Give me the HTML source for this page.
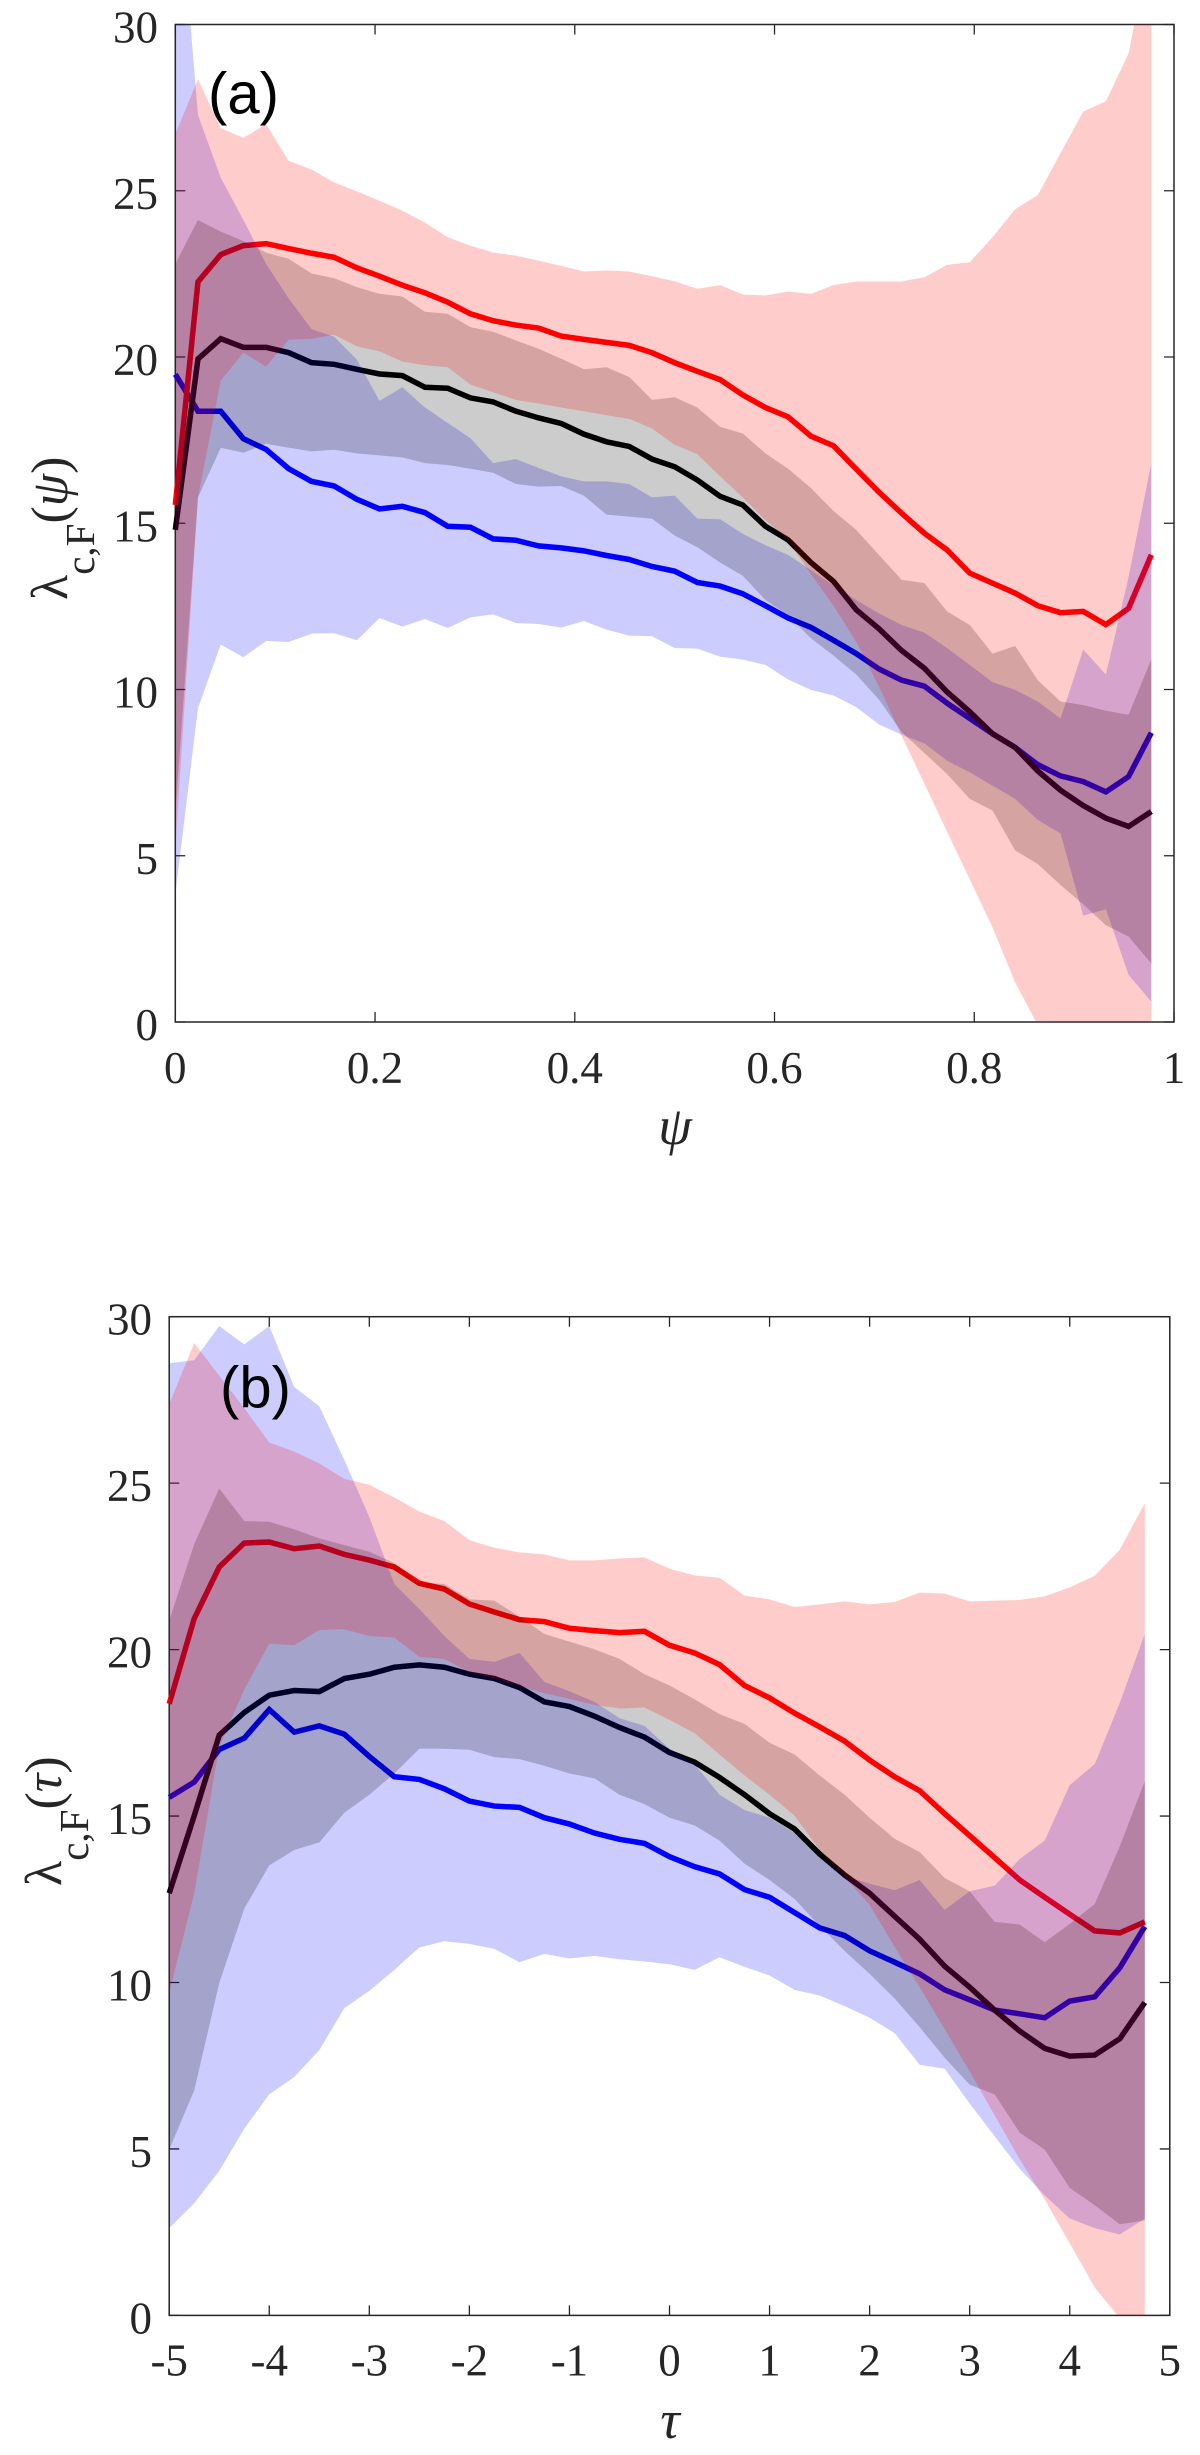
<!DOCTYPE html>
<html lang="en">
<head>
<meta charset="utf-8">
<title>Lambda c,F versus psi and tau</title>
<style>
html,body{margin:0;padding:0;background:#fff;}
svg{display:block;}
text{font-family:"Liberation Serif",serif;fill:#262626;}
.tick{font-size:45px;}
.panel{font-family:"Liberation Sans",sans-serif;font-size:58px;fill:#000;}
</style>
</head>
<body>
<svg id="fig" xmlns="http://www.w3.org/2000/svg" width="1200" height="2455" viewBox="0 0 1200 2455">
<defs>
<clipPath id="clipA"><rect x="175.3" y="24.5" width="998.7" height="997.5"/></clipPath>
<clipPath id="clipB"><rect x="169.2" y="1316.7" width="1000.6" height="998.7"/></clipPath>
</defs>
<g id="panelA"></g>
<g id="panelB"></g>
<text class="panel" x="208" y="113.5">(a)</text>
<text class="panel" x="220" y="1407.5">(b)</text>
<text transform="translate(67,600) rotate(-90)" font-size="52">λ<tspan font-size="41" dy="27">c,F</tspan><tspan dy="-27">(</tspan><tspan font-style="italic">ψ</tspan><tspan>)</tspan></text>
<text transform="translate(61,1886) rotate(-90)" font-size="52">λ<tspan font-size="41" dy="27">c,F</tspan><tspan dy="-27">(</tspan><tspan font-style="italic">τ</tspan><tspan>)</tspan></text>
<text x="675" y="1144" font-size="54" font-style="italic" text-anchor="middle">ψ</text>
<text x="670" y="2438" font-size="54" font-style="italic" text-anchor="middle">τ</text>
</svg>
<script>
// ---- shared tick labels ----
const yTicks = [0, 5, 10, 15, 20, 25, 30];
const xTicksA = [0, 0.2, 0.4, 0.6, 0.8, 1];
const xTicksB = [-5, -4, -3, -2, -1, 0, 1, 2, 3, 4, 5];

// ---- panel (a) data ----
const psiValues = [0,0.0227,0.0455,0.0682,0.0909,0.1136,0.1364,0.1591,0.1818,0.2045,0.2273,0.25,0.2727,0.2955,0.3182,0.3409,0.3636,0.3864,0.4091,0.4318,0.4545,0.4773,0.5,0.5227,0.5455,0.5682,0.5909,0.6136,0.6364,0.6591,0.6818,0.7045,0.7273,0.75,0.7727,0.7955,0.8182,0.8409,0.8636,0.8864,0.9091,0.9318,0.9545,0.9773];
const redMeanA = [15.55,22.26,23.08,23.35,23.41,23.26,23.12,23.0,22.68,22.43,22.16,21.93,21.65,21.3,21.09,20.96,20.87,20.63,20.53,20.44,20.35,20.13,19.83,19.57,19.32,18.86,18.48,18.2,17.62,17.33,16.63,15.94,15.3,14.7,14.2,13.5,13.2,12.9,12.52,12.31,12.35,11.95,12.44,14.05];
const redUpperA = [26.7,28.35,26.88,26.59,27.0,25.9,25.64,25.25,24.98,24.7,24.4,24.04,23.6,23.35,23.14,23.05,22.9,22.74,22.57,22.6,22.57,22.43,22.28,22.05,22.16,21.88,21.85,21.97,21.9,22.16,22.27,22.27,22.27,22.4,22.77,22.85,23.6,24.44,24.87,26.13,27.38,27.69,29.13,32.6];
const redLowerA = [5.2,15.78,19.29,20.13,19.71,20.52,20.55,20.67,20.32,20.17,19.86,19.75,19.69,19.17,18.94,18.71,18.6,18.48,18.37,18.25,18.14,17.85,17.36,17.08,16.41,15.78,15.09,14.51,13.47,12.52,11.43,10.1,8.61,7.17,5.73,4.29,2.85,1.19,-0.1,-1.5,-3,-4,-5,-6];
const blueMeanA = [19.48,18.37,18.37,17.54,17.22,16.64,16.26,16.12,15.72,15.43,15.51,15.32,14.91,14.88,14.53,14.49,14.32,14.26,14.17,14.03,13.91,13.7,13.56,13.22,13.11,12.88,12.52,12.15,11.87,11.48,11.08,10.62,10.28,10.1,9.59,9.13,8.67,8.26,7.74,7.4,7.23,6.92,7.38,8.7];
const blueUpperA = [35.5,27.28,25.39,24.12,22.8,21.76,20.84,20.61,19.92,18.68,19.09,18.48,18.02,17.56,16.81,16.93,16.67,16.41,16.26,16.26,16.18,15.78,15.83,15.14,15.12,14.68,14.34,14.05,13.59,13.13,12.69,12.29,11.94,11.71,11.25,10.74,10.22,9.99,9.64,9.13,11.2,10.45,13.38,16.81];
const blueLowerA = [3.83,9.44,11.35,10.97,11.46,11.43,11.68,11.69,11.48,12.15,11.89,12.12,11.85,12.17,12.26,12.0,11.97,11.86,12.06,11.8,11.62,11.6,11.25,11.23,10.99,10.9,10.74,10.3,9.99,9.82,9.47,8.95,8.64,8.38,7.86,7.51,7.11,6.71,6.08,5.67,3.2,3.39,1.42,0.61];
const blackMeanA = [14.8,19.94,20.55,20.29,20.29,20.13,19.83,19.78,19.63,19.49,19.44,19.09,19.06,18.77,18.65,18.37,18.17,18.0,17.68,17.45,17.31,16.93,16.7,16.3,15.81,15.55,14.91,14.5,13.82,13.25,12.4,11.83,11.17,10.64,9.93,9.33,8.67,8.26,7.55,6.97,6.51,6.13,5.88,6.33];
const blackUpperA = [22.8,24.12,23.77,23.49,23.14,22.95,22.51,22.37,22.1,21.9,21.82,21.36,21.3,20.9,20.76,20.5,20.25,19.95,19.63,19.69,19.4,18.71,18.79,18.48,17.9,17.7,17.1,16.64,16.06,15.37,14.8,14.05,13.3,13.2,12.35,11.94,11.08,11.31,10.28,9.64,9.53,9.36,9.24,10.91];
const blackLowerA = [6.25,15.78,17.27,17.12,17.39,17.27,17.16,17.21,17.1,17.04,16.98,16.81,16.75,16.64,16.52,16.18,16.1,16.12,15.83,15.26,15.2,15.14,14.63,14.28,13.82,13.42,12.69,12.23,11.54,11.02,10.45,9.7,8.72,8.09,7.46,6.71,6.36,5.16,4.75,4.12,3.54,2.91,2.57,1.76];

// ---- panel (b) data ----
const tauValues = [-5,-4.75,-4.5,-4.25,-4,-3.75,-3.5,-3.25,-3,-2.75,-2.5,-2.25,-2,-1.75,-1.5,-1.25,-1,-0.75,-0.5,-0.25,0,0.25,0.5,0.75,1,1.25,1.5,1.75,2,2.25,2.5,2.75,3,3.25,3.5,3.75,4,4.25,4.5,4.75];
const redMeanB = [18.37,20.93,22.48,23.2,23.23,23.03,23.11,22.86,22.69,22.48,21.99,21.82,21.37,21.13,20.9,20.84,20.64,20.57,20.51,20.55,20.13,19.9,19.55,18.92,18.55,18.09,17.68,17.25,16.68,16.18,15.76,15.07,14.41,13.75,13.08,12.56,12.05,11.55,11.49,11.82];
const redUpperB = [27.37,29.21,28.23,27.25,26.22,25.95,25.59,25.13,24.95,24.57,24.15,23.86,23.29,23.06,22.92,22.86,22.68,22.68,22.74,22.77,22.43,22.23,22.16,21.62,21.51,21.28,21.36,21.45,21.36,21.43,21.71,21.68,21.45,21.47,21.49,21.6,21.87,22.22,23.0,24.4];
const redLowerB = [9.69,12.68,17.08,18.8,20.18,20.13,20.59,20.61,20.41,20.36,19.78,19.72,19.32,19.13,18.9,18.69,18.52,18.34,18.23,18.26,17.89,17.49,16.85,16.22,15.64,15.01,13.98,13.18,12.33,11.07,9.86,8.6,7.33,6.01,4.69,3.48,2.16,0.84,-0.08,-1];
const blueMeanB = [15.56,16.02,17.0,17.34,18.2,17.52,17.71,17.46,16.79,16.18,16.1,15.82,15.45,15.3,15.26,14.95,14.76,14.49,14.3,14.18,13.78,13.48,13.26,12.79,12.56,12.1,11.64,11.41,10.95,10.61,10.26,9.78,9.48,9.17,9.06,8.94,9.44,9.57,10.44,11.68];
const blueUpperB = [28.6,28.69,29.72,29.17,29.72,27.89,27.31,25.7,23.98,21.97,21.22,20.41,19.72,19.63,19.9,19.03,18.75,18.43,17.94,17.71,17.02,16.56,15.64,15.18,14.95,14.49,13.75,13.2,12.97,12.77,13.08,12.18,12.74,12.91,13.71,14.26,15.93,16.56,18.4,20.47];
const blueLowerB = [2.62,3.37,4.34,5.61,6.64,7.16,7.97,9.23,9.75,10.38,11.05,11.24,11.16,11.01,10.61,10.86,10.72,10.8,10.7,10.63,10.55,10.38,10.76,10.47,10.21,9.78,9.61,9.29,8.94,8.48,7.53,7.41,6.36,5.38,4.4,3.6,2.91,2.62,2.43,2.91];
const blackMeanB = [12.68,15.01,17.43,18.11,18.63,18.77,18.74,19.13,19.26,19.47,19.54,19.47,19.26,19.13,18.86,18.43,18.29,18.0,17.66,17.37,16.91,16.62,16.16,15.64,15.07,14.61,13.86,13.23,12.68,11.99,11.3,10.49,9.86,9.17,8.54,8.02,7.79,7.82,8.31,9.4];
const blackUpperB = [20.87,23.17,24.84,23.86,23.84,23.61,23.34,23.14,22.94,22.6,22.02,21.97,21.51,21.47,20.99,20.47,20.24,20.01,19.72,19.26,18.92,18.51,18.06,17.77,17.2,16.85,16.22,15.64,14.95,14.32,13.92,13.14,12.74,11.82,11.74,11.21,11.76,12.36,14.09,16.05];
const blackLowerB = [4.98,6.76,9.98,12.22,13.52,13.98,14.21,15.1,15.64,16.28,17.02,17.02,16.99,16.77,16.71,16.51,16.28,16.13,15.64,15.36,14.95,14.72,14.26,13.57,13.08,12.51,11.7,10.95,10.26,9.52,8.66,7.74,6.93,6.64,5.49,4.98,3.83,3.31,2.74,2.85];

const NS = 'http://www.w3.org/2000/svg';
const AXIS_COLOR = '#262626';

// axis functions
function xScaleA(v) { return 175.3 + 998.7 * v; }
function yScaleA(v) { return 1022 - 33.25 * v; }
function xScaleB(v) { return 169.2 + 100.06 * (v + 5); }
function yScaleB(v) { return 2315.4 - 33.29 * v; }

function svgEl(tag, parent) {
  const el = document.createElementNS(NS, tag);
  parent.appendChild(el);
  return el;
}

function drawAxes(root, sx, sy, xT, yT, labelRight, labelBaseline, yDy, tag) {
  const x0 = sx(xT[0]), x1 = sx(xT[xT.length - 1]);
  const y0 = sy(0), y1 = sy(30);
  const box = svgEl('rect', root);
  
  
  box.setAttribute('x', x0);
  box.setAttribute('y', y1);
  box.setAttribute('width', x1 - x0);
  box.setAttribute('height', y0 - y1);
  box.setAttribute('fill', 'none');
  box.setAttribute('stroke', AXIS_COLOR);
  box.setAttribute('stroke-width', '1.5');
  xT.forEach(function (t) {
    const x = sx(t);
    const tk = svgEl('path', root);
    
    
    tk.setAttribute('d', 'M' + x + ' ' + y0 + 'V' + (y0 - 10) + 'M' + x + ' ' + y1 + 'V' + (y1 + 10));
    tk.setAttribute('stroke', AXIS_COLOR);
    tk.setAttribute('stroke-width', '1.3');
    tk.setAttribute('fill', 'none');
    const lb = svgEl('text', root);
    
    
    lb.setAttribute('class', 'tick');
    lb.setAttribute('x', x);
    lb.setAttribute('y', labelBaseline);
    lb.setAttribute('text-anchor', 'middle');
    lb.textContent = String(t);
  });
  yT.forEach(function (t) {
    const y = sy(t);
    const tk = svgEl('path', root);
    
    
    tk.setAttribute('d', 'M' + x0 + ' ' + y + 'H' + (x0 + 10) + 'M' + x1 + ' ' + y + 'H' + (x1 - 10));
    tk.setAttribute('stroke', AXIS_COLOR);
    tk.setAttribute('stroke-width', '1.3');
    tk.setAttribute('fill', 'none');
    const lb = svgEl('text', root);
    
    
    lb.setAttribute('class', 'tick');
    lb.setAttribute('x', labelRight);
    lb.setAttribute('y', y + yDy);
    lb.setAttribute('text-anchor', 'end');
    lb.textContent = String(t);
  });
}

function drawLine(root, xs, ys, sx, sy, color, name) {
  const line = svgEl('polyline', root);
  
  
  line.setAttribute('points', xs.map(function (x, i) { return sx(x).toFixed(2) + ',' + sy(ys[i]).toFixed(2); }).join(' '));
  line.setAttribute('fill', 'none');
  line.setAttribute('stroke', color);
  line.setAttribute('stroke-width', '5.5');
  line.setAttribute('stroke-linejoin', 'miter');
}

function drawBand(root, xs, upper, lower, sx, sy, color, clip, name) {
  const pts = [];
  xs.forEach(function (x, i) { pts.push(sx(x).toFixed(2) + ',' + sy(upper[i]).toFixed(2)); });
  for (let i = xs.length - 1; i >= 0; i--) { pts.push(sx(xs[i]).toFixed(2) + ',' + sy(lower[i]).toFixed(2)); }
  const band = svgEl('polygon', root);
  
  
  band.setAttribute('points', pts.join(' '));
  band.setAttribute('fill', color);
  band.setAttribute('fill-opacity', '0.2');
  band.setAttribute('clip-path', 'url(#' + clip + ')');
}

// panel (a)
const rootA = document.getElementById('panelA');
drawAxes(rootA, xScaleA, yScaleA, xTicksA, yTicks, 158, 1083, 18, 'a');
drawLine(rootA, psiValues, blueMeanA, xScaleA, yScaleA, '#0000ff', 'blue-mean-line-a');
drawLine(rootA, psiValues, blackMeanA, xScaleA, yScaleA, '#000000', 'black-mean-line-a');
drawLine(rootA, psiValues, redMeanA, xScaleA, yScaleA, '#ff0000', 'red-mean-line-a');
drawBand(rootA, psiValues, blueUpperA, blueLowerA, xScaleA, yScaleA, '#0000ff', 'clipA', 'blue-band-a');
drawBand(rootA, psiValues, blackUpperA, blackLowerA, xScaleA, yScaleA, '#000000', 'clipA', 'black-band-a');
drawBand(rootA, psiValues, redUpperA, redLowerA, xScaleA, yScaleA, '#ff0000', 'clipA', 'red-band-a');

// panel (b)
const rootB = document.getElementById('panelB');
drawAxes(rootB, xScaleB, yScaleB, xTicksB, yTicks, 152, 2375.5, 18, 'b');
drawLine(rootB, tauValues, blueMeanB, xScaleB, yScaleB, '#0000ff', 'blue-mean-line-b');
drawLine(rootB, tauValues, blackMeanB, xScaleB, yScaleB, '#000000', 'black-mean-line-b');
drawLine(rootB, tauValues, redMeanB, xScaleB, yScaleB, '#ff0000', 'red-mean-line-b');
drawBand(rootB, tauValues, blueUpperB, blueLowerB, xScaleB, yScaleB, '#0000ff', 'clipB', 'blue-band-b');
drawBand(rootB, tauValues, blackUpperB, blackLowerB, xScaleB, yScaleB, '#000000', 'clipB', 'black-band-b');
drawBand(rootB, tauValues, redUpperB, redLowerB, xScaleB, yScaleB, '#ff0000', 'clipB', 'red-band-b');
</script>
</body>
</html>
